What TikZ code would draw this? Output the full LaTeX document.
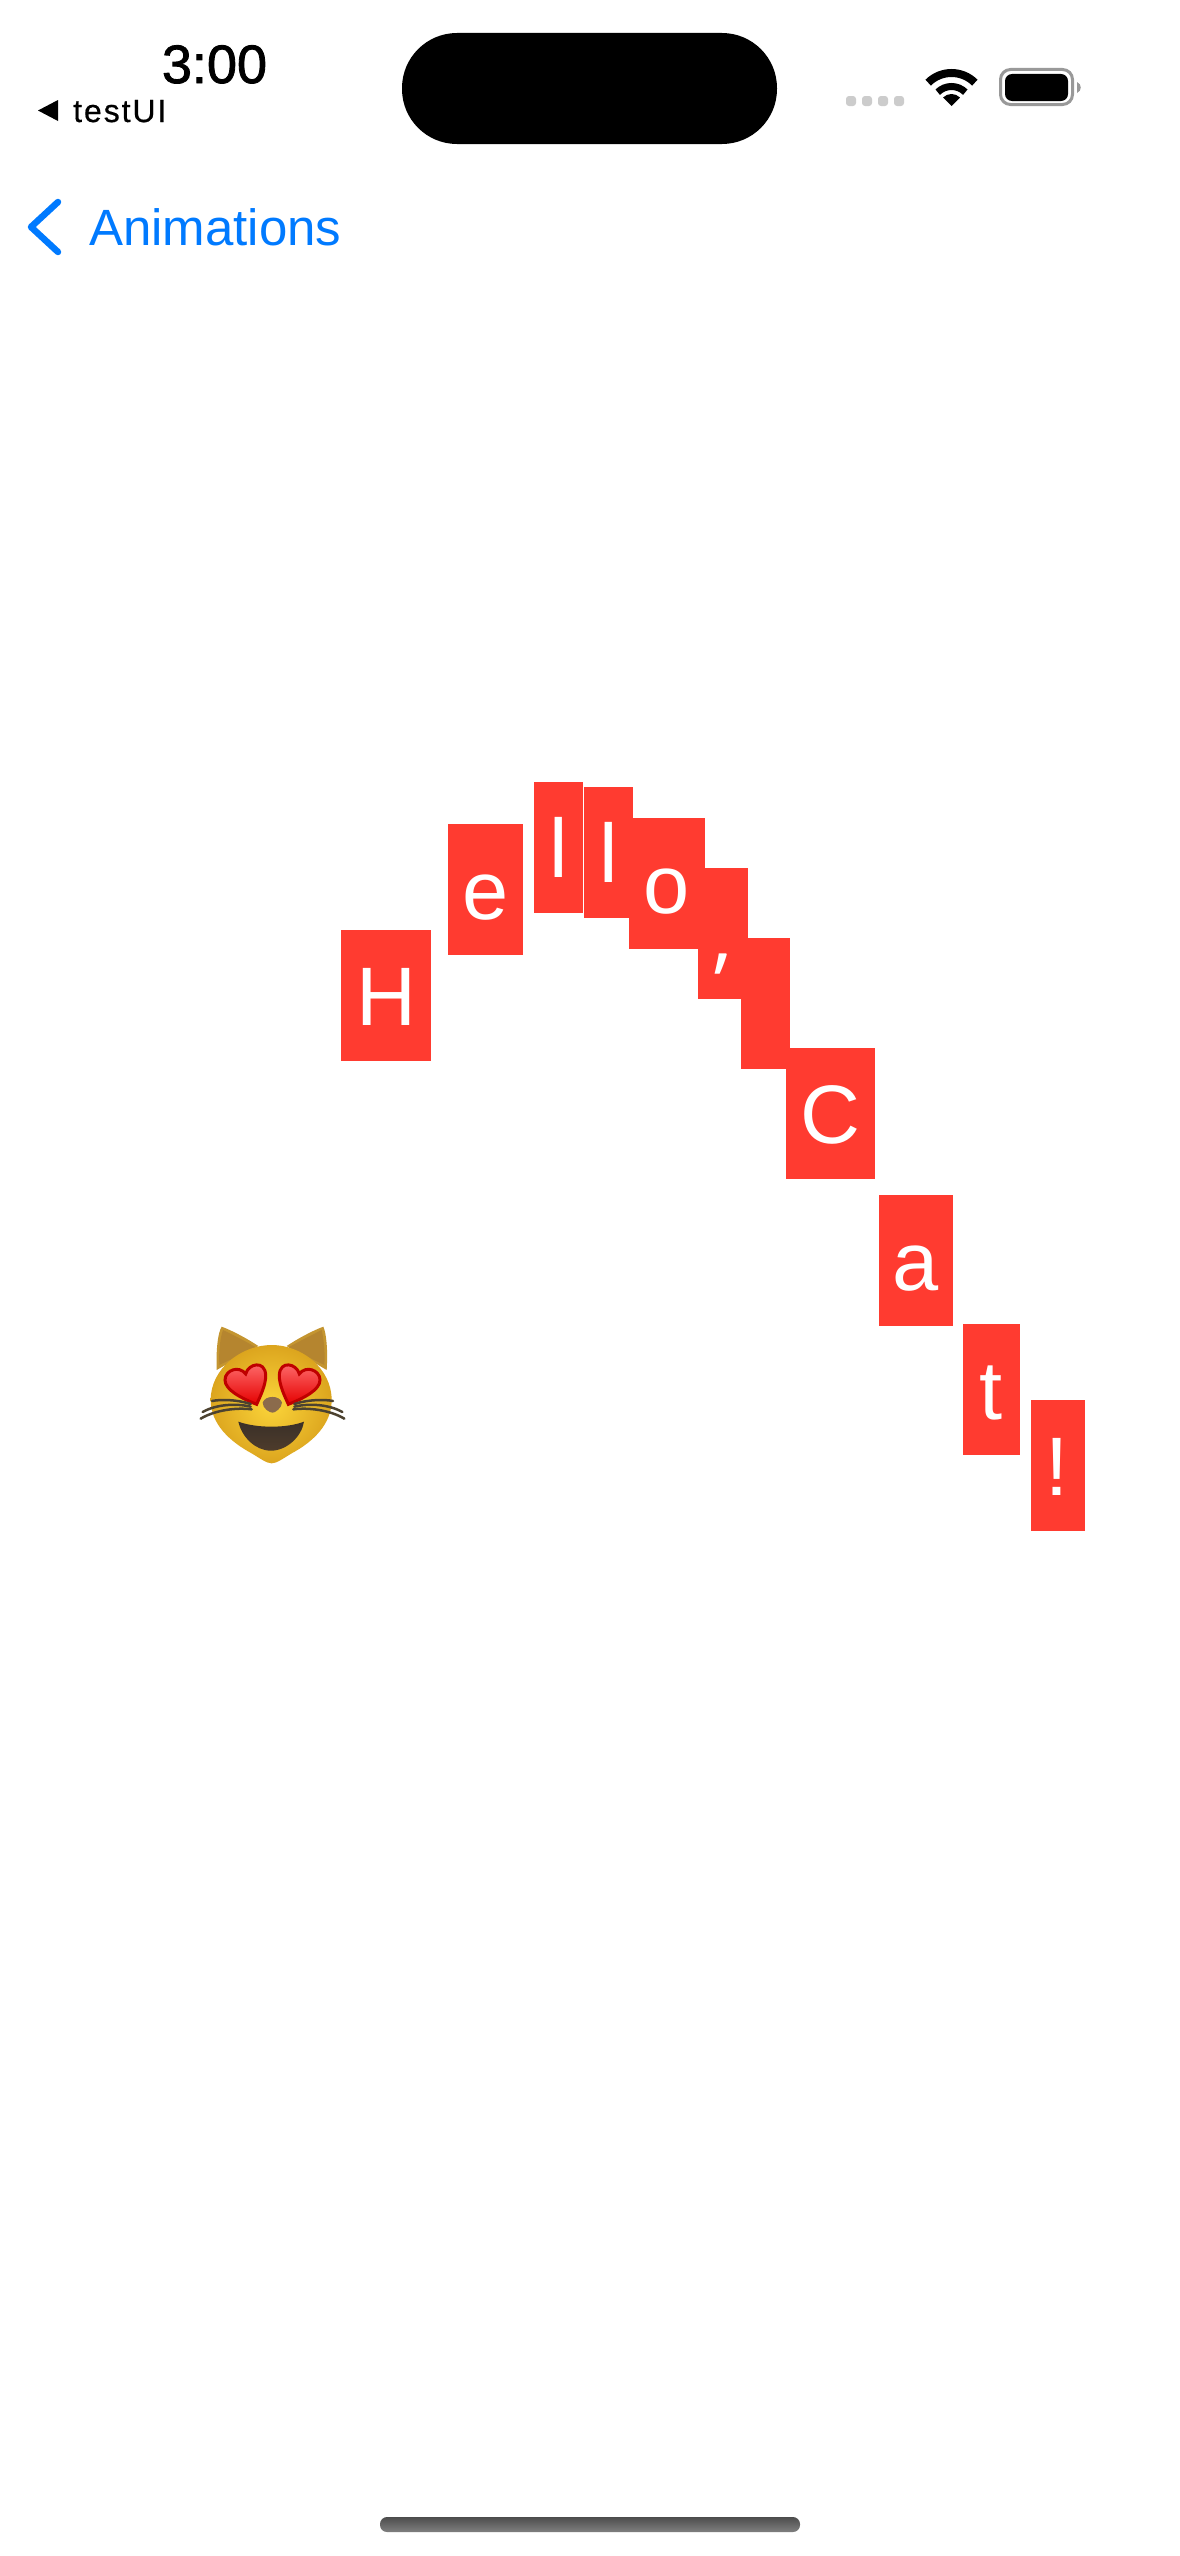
\documentclass[tikz,border=0pt]{standalone}
\usepackage{fontspec}
\setmainfont{Liberation Sans}
\newfontfamily\commafont{Open Sans}
\newfontfamily\clockfont[FakeBold=1.6]{Liberation Sans}
\newfontfamily\appfont[FakeBold=0.6, LetterSpace=6]{Liberation Sans}
\usetikzlibrary{calc}
\definecolor{iosblue}{HTML}{007AFF}
\definecolor{iosred}{HTML}{FF3B30}
\definecolor{catyellow}{HTML}{FBD53A}
\definecolor{catedge}{HTML}{DCA51E}
\definecolor{catear}{HTML}{B5852F}
\definecolor{catrim}{HTML}{C49530}
\definecolor{catnose}{HTML}{8B6B4C}
\definecolor{catmouth}{HTML}{3A3028}
\definecolor{catwhisker}{HTML}{4C4230}
\newcommand{\pxfont}[1]{\fontsize{#1}{#1}\selectfont}

\begin{document}
\begin{tikzpicture}[x=1pt, y=-1pt]
    \tikzset{letter box/.style={fill=iosred, text=white, inner sep=0pt, outer sep=0pt, minimum height=131pt, text height=95.5pt, text depth=35.5pt, font=\pxfont{83}}}
    \useasboundingbox (0,0) rectangle (1179,2556);
    \fill[white] (0,0) rectangle (1179,2556);

    % Status bar
    \node (clock) [anchor=base, inner sep=0pt, font=\clockfont\pxfont{54}] at (214.5,83) {3:00};
    \fill (38,110.5) -- (58,100) -- (58,121) -- cycle;
    \node (backApp) [anchor=base west, inner sep=0pt, font=\appfont\pxfont{32}] at (73,122) {testUI};
    \fill (402,33) [rounded corners=55pt] rectangle (777,144);
    \foreach \dotx in {846,862,878,894}
        \fill[black!20] (\dotx,96) [rounded corners=3pt] rectangle ++(10,10);
    \fill (951.5,106) -- ++(225:12) arc (225:315:12) -- cycle;
    \draw[line width=7pt] (951.5,106) ++(225:19.5) arc (225:315:19.5);
    \draw[line width=8pt] (951.5,106) ++(225:33) arc (225:315:33);
    \draw[black!40, line width=3pt, rounded corners=10pt] (1000.5,69.5) rectangle (1072.5,104.5);
    \fill[rounded corners=7pt] (1005,74) rectangle (1068,101);
    \fill[black!40] (1077,82) .. controls (1082,84) and (1082,91) .. (1077,93) -- cycle;

    % Navigation bar
    \draw[iosblue, line width=6.5pt, line cap=round, line join=round] (58,202) -- (31,227) -- (58,252);
    \node (navTitle) [anchor=base west, inner sep=0pt, text=iosblue, font=\pxfont{51}] at (89,245) {Animations};

    % Letters
    \node (letterH) [letter box, minimum width=90pt] at (386,995.5) {H};
    \node (letterE) [letter box, minimum width=75pt] at (485.5,889.5) {e};
    \node (letterL) [letter box, minimum width=49pt] at (558.3,847) {l};
    \node (letterLL) [letter box, minimum width=49pt] at (608.5,852.7) {l};
    \node (letterO) [letter box, minimum width=76pt] at (667,883.5) {o};
    \node (letterComma) [letter box, minimum width=50pt] at (723,933) {\commafont ,};
    \node (letterSpace) [letter box, minimum width=49pt] at (765.2,1003.8) {};
    \node (letterC) [letter box, minimum width=89pt] at (830.7,1113.5) {C};
    \node (letterA) [letter box, minimum width=74pt] at (915.5,1260.5) {a};
    \node (letterT) [letter box, minimum width=57pt] at (991,1389.5) {t};
    \node (letterBang) [letter box, minimum width=54pt] at (1057.5,1465.5) {!};

    % Cat
    \begin{scope}[shift={(180,1300)}, scale=1/3]
        \fill[catrim] (110,210) .. controls (108,150) and (113,100) .. (125,80) .. controls (160,93) and (205,118) .. (235,138) -- cycle;
        \fill[catrim] (440,210) .. controls (444,150) and (439,100) .. (430,80) .. controls (395,93) and (350,118) .. (320,138) -- cycle;
        \fill[catear] (118,195) .. controls (116,150) and (121,112) .. (129,90) .. controls (160,105) and (195,123) .. (228,142) -- cycle;
        \fill[catear] (433,195) .. controls (436,150) and (430,112) .. (425,90) .. controls (395,105) and (360,123) .. (325,142) -- cycle;
        \shade[inner color=catyellow, outer color=catedge] (275,135) .. controls (185,135) and (92,205) .. (92,300) .. controls (92,372) and (150,425) .. (215,460) .. controls (240,475) and (260,490) .. (275,490) .. controls (290,490) and (310,475) .. (335,460) .. controls (400,425) and (455,372) .. (455,300) .. controls (455,205) and (365,135) .. (275,135) -- cycle;
        % Hearts and whiskers
        \foreach \hx/\hs in {0/1, 555/-1} {
            \begin{scope}[shift={(\hx,0)}, xscale=\hs]
                \shade[draw=red!75!black, line width=3pt, top color=red!55!white, bottom color=red!90!black] (230,313) .. controls (185,295) and (135,270) .. (135,240) .. controls (135,210) and (178,195) .. (197,222) .. controls (205,190) and (255,180) .. (257,225) .. controls (258,255) and (240,290) .. (230,313) -- cycle;
                \draw[catwhisker, line width=2.5pt, line cap=round] (212,312) .. controls (170,298) and (120,298) .. (96,303);
                \draw[catwhisker, line width=2.5pt, line cap=round] (212,320) .. controls (170,310) and (110,312) .. (68,336);
                \draw[catwhisker, line width=2.5pt, line cap=round] (215,328) .. controls (170,322) and (105,330) .. (62,356);
            \end{scope}
        }
        \fill[catnose] (248,308) .. controls (255,285) and (300,285) .. (306,308) .. controls (305,325) and (285,338) .. (278,338) .. controls (268,338) and (248,325) .. (248,308) -- cycle;
        \shade[top color=catmouth, bottom color=catmouth!85!brown] (175,365) .. controls (230,385) and (320,385) .. (372,365) .. controls (365,410) and (320,452) .. (273,452) .. controls (225,452) and (185,410) .. (175,365) -- cycle;
    \end{scope}

    % Home indicator
    \shade[top color=black!70, bottom color=black!50, rounded corners=7pt] (380,2517) rectangle (800,2532);
\end{tikzpicture}
\end{document}
